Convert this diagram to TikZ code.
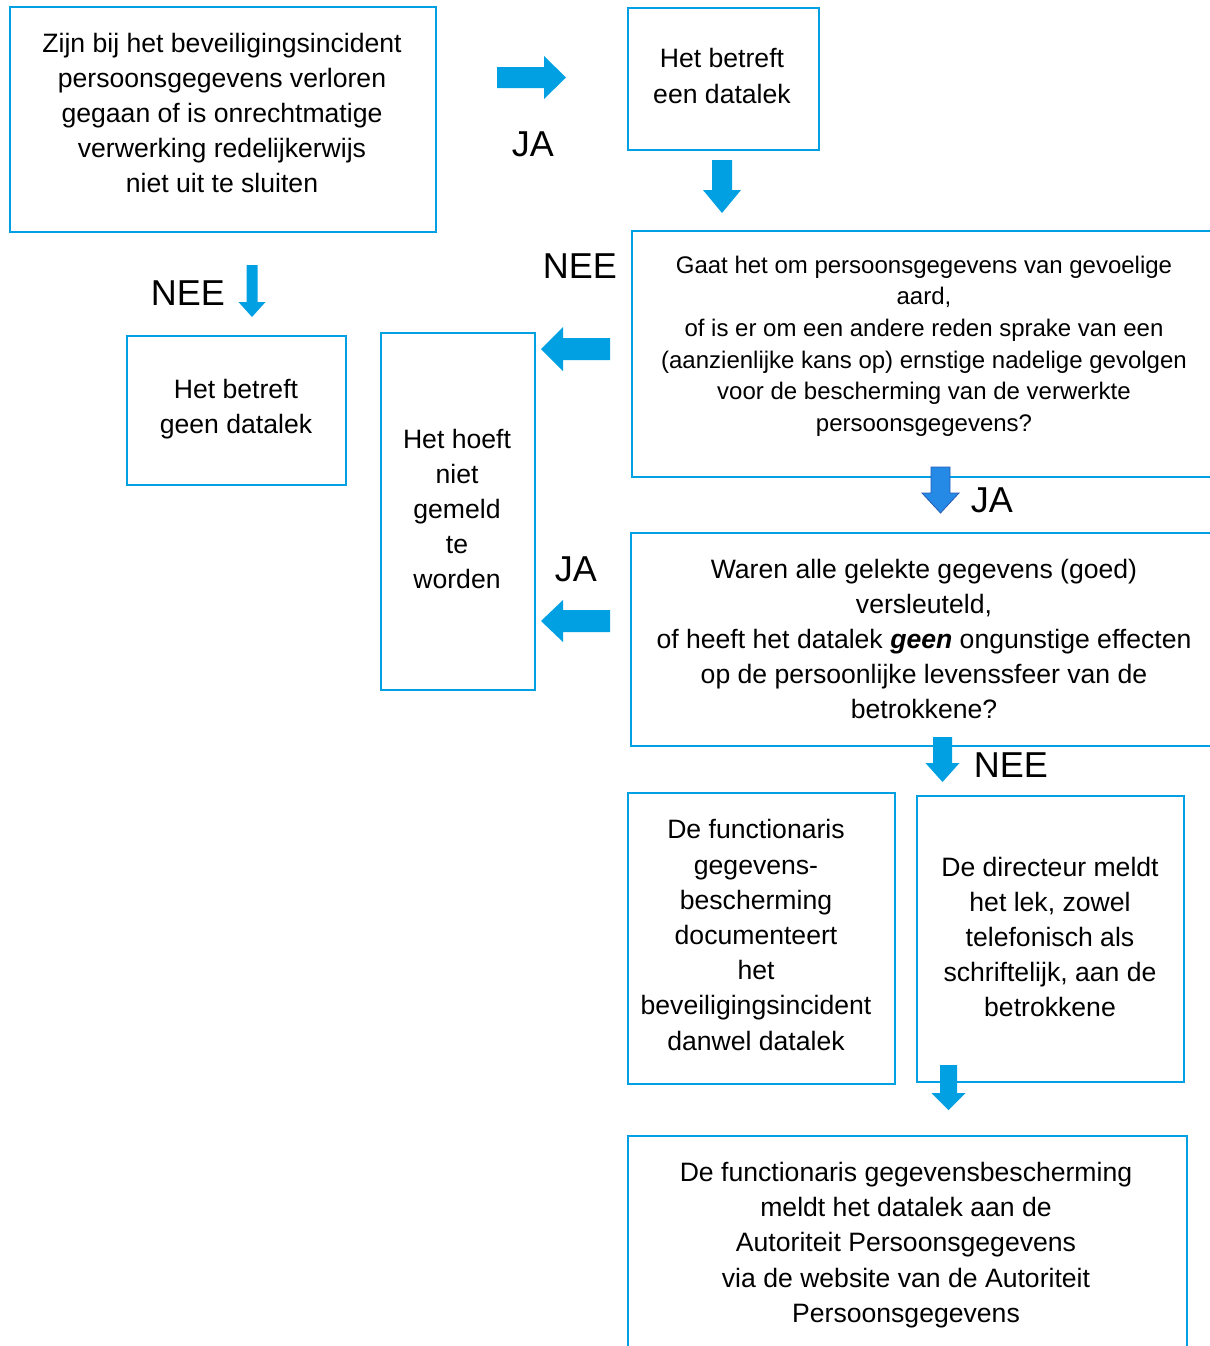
\documentclass[tikz,border=0pt]{standalone}
\usepackage{fontspec}
\setmainfont{Liberation Sans}
\definecolor{lblue}{RGB}{0,160,227}
\definecolor{jablue}{RGB}{36,138,230}
\definecolor{jadark}{RGB}{40,90,180}
\tikzset{
  box/.style={draw=lblue, line width=1pt, anchor=north west, inner sep=0pt},
  txt/.style={align=center, font=\fontsize{13.3}{17.6}\selectfont, inner sep=0pt},
  smalltxt/.style={align=center, font=\fontsize{12}{15.8}\selectfont, inner sep=0pt},
  lbl/.style={font=\fontsize{18}{20}\selectfont, inner sep=0pt},
  arrowfill/.style={fill=lblue},
  jaarrow/.style={fill=jablue, draw=jadark, line width=0.4pt}
}
% vertical block arrow: [style] cx, ytop, ytip, halfshaft, halfhead, headstart
\newcommand\darr[7][arrowfill]{\path[#1] (#2-#5,#3) -- (#2+#5,#3) -- (#2+#5,#7) -- (#2+#6,#7) -- (#2,#4) -- (#2-#6,#7) -- (#2-#5,#7) -- cycle;}
% horizontal block arrow: ycenter, xstart, xtip, halfshaft, halfhead, headstart
\newcommand\harr[6]{\path[arrowfill] (#2,#1-#4) -- (#6,#1-#4) -- (#6,#1-#5) -- (#3,#1) -- (#6,#1+#5) -- (#6,#1+#4) -- (#2,#1+#4) -- cycle;}
\begin{document}
\begin{tikzpicture}[x=0.5pt,y=-0.5pt]
\useasboundingbox (0,0) rectangle (1210,1346);
% boxes
\node[box, minimum width=213pt, minimum height=112.5pt] (a) at (9,6) {};
\node[box, minimum width=95.5pt, minimum height=71pt] (b) at (627,7) {};
\node[box, minimum width=293pt, minimum height=123pt] (c) at (631,230) {};
\node[box, minimum width=109.5pt, minimum height=74.5pt] (d) at (126,335) {};
\node[box, minimum width=77pt, minimum height=178.5pt] (e) at (380,332) {};
\node[box, minimum width=293.5pt, minimum height=106.5pt] (f) at (630,532) {};
\node[box, minimum width=133.5pt, minimum height=145.5pt] (g) at (627,792) {};
\node[box, minimum width=133.5pt, minimum height=143pt] (h) at (916,795) {};
\node[box, minimum width=279.5pt, minimum height=122.5pt] (i) at (627,1135) {};
% texts
\node[txt] (at) at (222,113) {Zijn bij het beveiligingsincident\\persoonsgegevens verloren\\gegaan of is onrechtmatige\\verwerking redelijkerwijs\\niet uit te sluiten};
\node[txt] (bt) at (722,76) {Het betreft\\een datalek};
\node[smalltxt] (ct) at (924,346) {Gaat het om persoonsgegevens van gevoelige\\aard,\\of is er om een andere reden sprake van een\\(aanzienlijke kans op) ernstige nadelige gevolgen\\voor de bescherming van de verwerkte\\persoonsgegevens?};
\node[txt] (dt) at (236,409) {Het betreft\\geen datalek};
\node[txt] (et) at (457,509) {Het hoeft\\niet\\gemeld\\te\\worden};
\node[txt] (ft) at (924,639) {Waren alle gelekte gegevens (goed)\\versleuteld,\\of heeft het datalek \textbf{\textit{geen}} ongunstige effecten\\op de persoonlijke levenssfeer van de\\betrokkene?};
\node[txt] (gt) at (756,935) {De functionaris\\gegevens-\\bescherming\\documenteert\\het\\beveiligingsincident\\danwel datalek};
\node[txt] (ht) at (1050,937) {De directeur meldt\\het lek, zowel\\telefonisch als\\schriftelijk, aan de\\betrokkene};
\node[txt] (it) at (906,1245) {De functionaris gegevensbescherming\\meldt het datalek aan de\\Autoriteit Persoonsgegevens\\via de website van de Autoriteit\\Persoonsgegevens};
% labels
\node[lbl] (ja1) at (533,144) {JA};
\node[lbl] (nee1) at (580,266) {NEE};
\node[lbl] (nee2) at (188,293) {NEE};
\node[lbl] (ja2) at (992,500) {JA};
\node[lbl] (ja3) at (576,569) {JA};
\node[lbl] (nee3) at (1011,765) {NEE};
% block arrows
\harr{77.5}{497}{566}{10.5}{21.5}{544}
\darr{722}{160}{213}{10}{19}{190}
\darr{252}{265}{317}{5.5}{13.5}{302}
\harr{349}{610}{541}{11}{22}{563}
\harr{621}{610}{541}{11}{21}{563}
\darr[jaarrow]{940.5}{467}{513}{9.5}{18.5}{493}
\darr{942.5}{737}{782}{9.5}{17}{763}
\darr{948.5}{1065}{1110}{8.5}{17}{1093}
\end{tikzpicture}
\end{document}
